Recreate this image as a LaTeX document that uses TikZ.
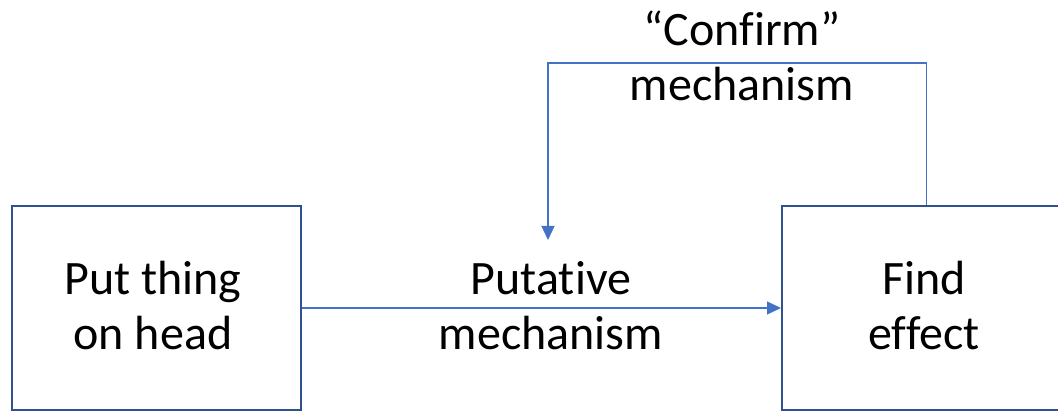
\documentclass[tikz,border=0pt]{standalone}
\usepackage{fontspec}
\setmainfont[RawFeature=-liga]{Carlito}
\usetikzlibrary{arrows.meta}
\definecolor{boxline}{HTML}{2F528F}
\definecolor{linkline}{HTML}{4472C4}
\tikzset{
  stepbox/.style={draw=boxline, line width=2pt, fill=white,
    minimum width=289pt, minimum height=204pt, inner sep=0pt},
  caption/.style={align=center, anchor=base, inner sep=0pt,
    font=\fontsize{48pt}{55pt}\selectfont},
  link/.style={draw=linkline, line width=1.3pt,
    -{Triangle[length=14pt,width=13pt]}},
}
\begin{document}
\begin{tikzpicture}[x=1pt,y=1pt]
  \useasboundingbox (0,0) rectangle (1058,411);
  % the two boxes
  \node[stepbox] (put)  at (156.5,103) {};
  \node[stepbox] (find) at (926.5,103) {};
  % captions (anchored on the last baseline)
  \node[caption] (puttxt)  at (153,61)  {Put thing\\on head};
  \node[caption] (findtxt) at (924,61)  {Find\\effect};
  \node[caption] (mechtxt) at (551,61)  {Putative\\mechanism};
  \node[caption] (conftxt) at (742,310) {“Confirm”\\mechanism};
  % forward connector
  \draw[link] (put.east) -- (find.west);
  % feedback loop
  \coordinate (looptip) at (548,171);
  \draw[link] (find.north) |- (548,348) -- (looptip);
\end{tikzpicture}
\end{document}
